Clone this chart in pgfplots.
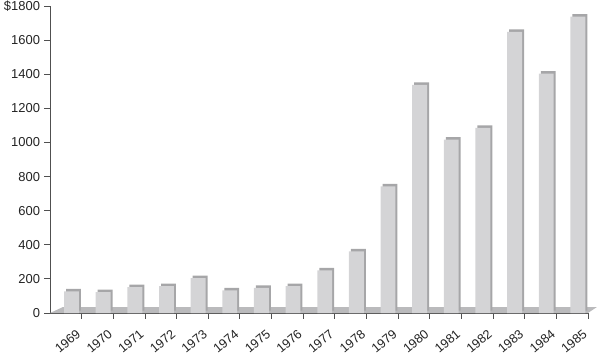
\documentclass[border=0pt]{standalone}
\usepackage{pgfplots}
\usepackage{pgfplotstable}
\pgfplotsset{compat=1.18}
\usepackage{fontspec}
\setmainfont{Liberation Sans}
\definecolor{barfront}{RGB}{212,212,214}
\definecolor{barside}{RGB}{166,166,168}
\definecolor{floorc}{RGB}{186,186,188}
\definecolor{axisc}{RGB}{80,80,80}
\definecolor{textc}{RGB}{35,35,35}

\pgfplotstableread{
x y
0 127
1 123
2 152
3 158
4 205
5 132
6 147
7 158
8 250
9 361
10 742
11 1338
12 1016
13 1086
14 1649
15 1403
16 1737
}\data

\begin{document}
\begin{tikzpicture}
\begin{axis}[
  scale only axis, width=538bp, height=307bp,
  xmin=-0.5, xmax=16.5, ymin=0, ymax=1800,
  axis lines=left,
  axis line style={-, axisc, line width=0.9bp},
  clip=false,
  xtick={0.5,1.5,...,16.5},
  xticklabels={1969,1970,1971,1972,1973,1974,1975,1976,1977,1978,1979,1980,1981,1982,1983,1984,1985},
  ytick={0,200,...,1800},
  yticklabels={0,200,400,600,800,1000,1200,1400,1600,\$1800},
  tick align=outside,
  major tick length=5.5bp,
  tick style={axisc, line width=0.8bp},
  ticklabel style={font=\fontsize{13}{15}\selectfont, text=textc},
  x tick label style={font=\fontsize{12.8}{14}\selectfont, yshift=-17bp, rotate=40, anchor=south east, inner sep=0pt, text depth=0pt},
  y tick label style={anchor=east, text depth=0pt, xshift=-1bp},
]
\coordinate (o) at (rel axis cs:0,0);
\addplot[fill=floorc, draw=none] coordinates {(-0.5,0) (16.5,0) (16.78,35) (-0.09,35)} -- cycle;
\addplot[ybar, bar width=0.47, bar shift=0.18, fill=barside, draw=none, xshift=2bp, yshift=2.5bp] table[x=x,y=y] {\data};
\addplot[ybar, bar width=0.47, bar shift=0.18, fill=barfront, draw=none] table[x=x,y=y] {\data};
\end{axis}
\pgfresetboundingbox
\path[use as bounding box] ([shift={(-50bp,-42bp)}]o) rectangle ([shift={(550bp,313bp)}]o);
\end{tikzpicture}
\end{document}
